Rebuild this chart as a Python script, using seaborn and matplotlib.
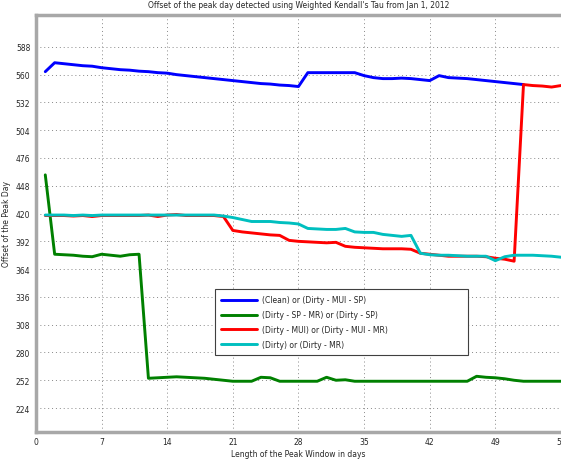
import numpy as np
import pandas as pd
import matplotlib
matplotlib.use("Agg")
import matplotlib.pyplot as plt
import seaborn as sns


# Data

days = list(range(1, 57))

clean_mui_sp = [563, 572, 571, 570, 569, 568.5, 567, 566, 565, 564.5,
                563.5, 563, 562, 561.5, 560, 559, 558, 557, 556, 555,
                554, 553, 552, 551, 550.5, 549.5, 549, 548, 562, 562,
                562, 562, 562, 562, 559, 557, 556, 556, 556.5, 556,
                555, 554, 559, 557, 556.5, 556, 555, 554, 553, 552,
                551, 550]

dirty_sp_mr = [459, 379, 378.5, 378, 377, 376.5, 379, 378, 377, 378.5,
               379, 254, 254.5, 255, 255.5, 255, 254.5, 254, 253, 252,
               251, 251, 251, 255, 254.5, 251, 251, 251, 251, 251,
               255, 252, 252.5, 251, 251, 251, 251, 251, 251, 251,
               251, 251, 251, 251, 251, 251, 256, 255, 254.5, 253.5,
               252, 251, 251, 251, 251, 251]

dirty_mui_mr = [418, 418, 418, 417.5, 418, 417, 418, 418, 418, 418,
                418, 418.5, 417, 418.5, 419, 418, 418, 418, 418, 417,
                403, 401.5, 400.5, 399.5, 398.5, 398, 393, 392, 391.5, 391,
                390.5, 391, 387, 386, 385.5, 385, 384.5, 384.5, 384.5, 384,
                380, 379, 378, 377, 377, 377, 377, 376.5, 375, 374,
                372, 550, 549, 548.5, 547.5, 549]

dirty_mr = [418.5, 418.5, 418.5, 418, 418.5, 418, 418.5, 418.5, 418.5, 418.5,
            418.5, 418.5, 418.5, 418.5, 418.5, 418.5, 418.5, 418.5, 418.5, 417.5,
            416, 414, 412, 412, 412, 411, 410.5, 409.5, 405, 404.5,
            404, 404, 405, 401.5, 401, 401, 399, 398, 397, 398,
            380, 378.5, 378, 378, 377.5, 377, 377, 377, 372.5, 376.5,
            378, 378, 378, 377.5, 377, 376]

series = [
    ("(Clean) or (Dirty - MUI - SP)", clean_mui_sp, "#0000ff"),
    ("(Dirty - SP - MR) or (Dirty - SP)", dirty_sp_mr, "#008000"),
    ("(Dirty - MUI) or (Dirty - MUI - MR)", dirty_mui_mr, "#ff0000"),
    ("(Dirty) or (Dirty - MR)", dirty_mr, "#00bfbf"),
]

x_ticks = list(range(0, 57, 7))
y_ticks = list(range(224, 589, 28))


# Style

sns.set_style("white")
plt.rcParams["font.family"] = ["DejaVu Sans"]
plt.rcParams["font.size"] = 5.5

fig = plt.figure(figsize=(5.61, 4.6), dpi=100)
ax = fig.add_axes([0.064, 0.059, 0.936, 0.906])

for label, values, color in series:
    sns.lineplot(
        x=days[:len(values)],
        y=values,
        ax=ax,
        color=color,
        linewidth=2.1,
        label=label
    )

ax.set_xlim(0, 56)
ax.set_ylim(200, 620)
ax.set_xticks(x_ticks)
ax.set_yticks(y_ticks)
ax.tick_params(direction="in", length=4, width=0.8, color="black",
               labelsize=5.5, pad=4)
ax.grid(True, linestyle=(0, (1, 3)), color="#888888", linewidth=0.7)

for side in ["left", "bottom", "top"]:
    ax.spines[side].set_color("#a8a8a8")
    ax.spines[side].set_linewidth(2.5)
ax.spines["right"].set_visible(False)

ax.set_title("Offset of the peak day detected using Weighted Kendall's Tau from Jan 1, 2012",
             fontsize=5.5, pad=6)
ax.set_xlabel("Length of the Peak Window in days", fontsize=5.5, labelpad=2)
ax.set_ylabel("Offset of the Peak Day", fontsize=5.5, labelpad=3.5)

# legend box roughly 253 x 64 px in the reference
leg = ax.legend(
    loc="lower left",
    bbox_to_anchor=(0.341, 0.185, 0.482, 0.153),
    mode="expand",
    fontsize=5.5,
    handlelength=4.7,
    handletextpad=0.6,
    labelspacing=0.75,
    borderpad=0.8,
    fancybox=False,
    framealpha=1,
    edgecolor="#404040",
    borderaxespad=0
)
leg.get_frame().set_linewidth(0.8)
for line in leg.get_lines():
    line.set_linewidth(2.1)

fig.savefig("out.png", dpi=100)
plt.close()
